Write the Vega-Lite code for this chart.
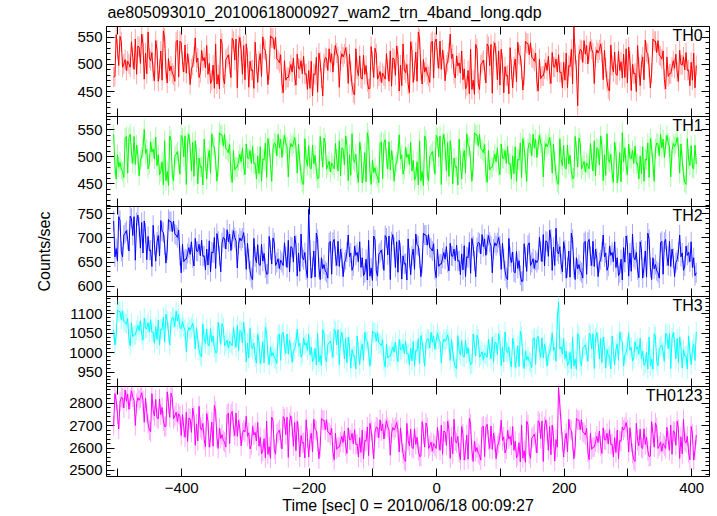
{
"$schema":"https://vega.github.io/schema/vega-lite/v6.json",
"background":"white",
"padding":{"left":36,"top":5,"right":5,"bottom":3},
"title":{"text":"ae805093010_20100618000927_wam2_trn_4band_long.qdp","anchor":"start","fontSize":16,"font":"Liberation Sans","fontWeight":"normal","color":"black","frame":"bounds","offset":4,"dx":71},
"data":{"values":[
{"t":-506,"a":476,"b":541,"c":734,"d":1057,"e":2697},
{"t":-504,"a":477,"b":483,"c":660,"d":1019,"e":2841},
{"t":-502,"a":554,"b":458,"c":677,"d":1046,"e":2809},
{"t":-500,"a":527,"b":503,"c":651,"d":1109,"e":2749},
{"t":-498,"a":497,"b":480,"c":743,"d":1105,"e":2683},
{"t":-496,"a":551,"b":489,"c":735,"d":1105,"e":2803},
{"t":-494,"a":541,"b":476,"c":671,"d":1084,"e":2825},
{"t":-492,"a":494,"b":472,"c":660,"d":1106,"e":2821},
{"t":-490,"a":500,"b":461,"c":705,"d":1079,"e":2777},
{"t":-488,"a":508,"b":534,"c":709,"d":1077,"e":2857},
{"t":-486,"a":488,"b":537,"c":714,"d":1072,"e":2807},
{"t":-484,"a":505,"b":469,"c":696,"d":1087,"e":2839},
{"t":-482,"a":500,"b":535,"c":672,"d":1034,"e":2771},
{"t":-480,"a":494,"b":541,"c":744,"d":1017,"e":2817},
{"t":-478,"a":541,"b":506,"c":739,"d":1076,"e":2853},
{"t":-476,"a":512,"b":487,"c":704,"d":1040,"e":2825},
{"t":-474,"a":490,"b":537,"c":743,"d":1045,"e":2811},
{"t":-472,"a":546,"b":485,"c":653,"d":1045,"e":2699},
{"t":-470,"a":481,"b":521,"c":731,"d":1057,"e":2797},
{"t":-468,"a":533,"b":502,"c":746,"d":1069,"e":2823},
{"t":-466,"a":531,"b":464,"c":721,"d":1055,"e":2811},
{"t":-464,"a":501,"b":493,"c":678,"d":1081,"e":2823},
{"t":-462,"a":555,"b":499,"c":731,"d":1048,"e":2845},
{"t":-460,"a":537,"b":515,"c":668,"d":1031,"e":2811},
{"t":-458,"a":472,"b":550,"c":734,"d":1088,"e":2713},
{"t":-456,"a":520,"b":505,"c":709,"d":1062,"e":2821},
{"t":-454,"a":482,"b":513,"c":654,"d":1061,"e":2757},
{"t":-452,"a":559,"b":477,"c":702,"d":1076,"e":2707},
{"t":-450,"a":511,"b":486,"c":673,"d":1052,"e":2679},
{"t":-448,"a":506,"b":527,"c":674,"d":1084,"e":2671},
{"t":-446,"a":521,"b":508,"c":640,"d":1051,"e":2841},
{"t":-444,"a":485,"b":514,"c":725,"d":1052,"e":2765},
{"t":-442,"a":469,"b":495,"c":685,"d":1023,"e":2741},
{"t":-440,"a":543,"b":536,"c":651,"d":1066,"e":2815},
{"t":-438,"a":526,"b":483,"c":690,"d":1033,"e":2733},
{"t":-436,"a":468,"b":503,"c":704,"d":1083,"e":2729},
{"t":-434,"a":490,"b":466,"c":662,"d":1019,"e":2817},
{"t":-432,"a":524,"b":472,"c":735,"d":1060,"e":2747},
{"t":-430,"a":470,"b":490,"c":713,"d":1058,"e":2779},
{"t":-428,"a":561,"b":447,"c":710,"d":1090,"e":2719},
{"t":-426,"a":548,"b":529,"c":685,"d":1026,"e":2693},
{"t":-424,"a":490,"b":455,"c":647,"d":1098,"e":2695},
{"t":-422,"a":465,"b":472,"c":674,"d":1082,"e":2849},
{"t":-420,"a":510,"b":446,"c":737,"d":1052,"e":2795},
{"t":-418,"a":487,"b":538,"c":733,"d":1019,"e":2735},
{"t":-416,"a":496,"b":530,"c":733,"d":1079,"e":2843},
{"t":-414,"a":483,"b":466,"c":712,"d":1090,"e":2823},
{"t":-412,"a":479,"b":455,"c":734,"d":1088,"e":2729},
{"t":-410,"a":468,"b":500,"c":707,"d":1066,"e":2741},
{"t":-408,"a":541,"b":504,"c":705,"d":1106,"e":2757},
{"t":-406,"a":544,"b":509,"c":700,"d":1081,"e":2717},
{"t":-404,"a":476,"b":491,"c":715,"d":1097,"e":2751},
{"t":-402,"a":542,"b":467,"c":662,"d":1063,"e":2741},
{"t":-400,"a":539,"b":539,"c":627,"d":1061,"e":2654},
{"t":-398,"a":504,"b":534,"c":686,"d":1079,"e":2748},
{"t":-396,"a":485,"b":499,"c":650,"d":1065,"e":2690},
{"t":-394,"a":535,"b":538,"c":655,"d":1058,"e":2646},
{"t":-392,"a":483,"b":448,"c":655,"d":1002,"e":2758},
{"t":-390,"a":519,"b":526,"c":667,"d":1051,"e":2628},
{"t":-388,"a":500,"b":541,"c":679,"d":1064,"e":2732},
{"t":-386,"a":462,"b":516,"c":665,"d":1058,"e":2728},
{"t":-384,"a":491,"b":473,"c":691,"d":1064,"e":2668},
{"t":-382,"a":497,"b":526,"c":658,"d":1075,"e":2776},
{"t":-380,"a":513,"b":463,"c":641,"d":1058,"e":2740},
{"t":-378,"a":548,"b":529,"c":698,"d":1009,"e":2610},
{"t":-376,"a":503,"b":504,"c":672,"d":1063,"e":2706},
{"t":-374,"a":511,"b":449,"c":671,"d":1031,"e":2630},
{"t":-372,"a":475,"b":497,"c":686,"d":1006,"e":2784},
{"t":-370,"a":484,"b":480,"c":662,"d":992,"e":2688},
{"t":-368,"a":525,"b":481,"c":694,"d":988,"e":2678},
{"t":-366,"a":506,"b":447,"c":661,"d":1073,"e":2708},
{"t":-364,"a":512,"b":532,"c":662,"d":1035,"e":2636},
{"t":-362,"a":493,"b":492,"c":633,"d":1023,"e":2604},
{"t":-360,"a":534,"b":458,"c":676,"d":1060,"e":2752},
{"t":-358,"a":481,"b":497,"c":643,"d":1019,"e":2718},
{"t":-356,"a":501,"b":511,"c":693,"d":1017,"e":2602},
{"t":-354,"a":464,"b":469,"c":629,"d":1061,"e":2646},
{"t":-352,"a":470,"b":542,"c":670,"d":1026,"e":2714},
{"t":-350,"a":498,"b":520,"c":668,"d":1042,"e":2606},
{"t":-348,"a":455,"b":517,"c":700,"d":1012,"e":2788},
{"t":-346,"a":537,"b":492,"c":636,"d":999,"e":2762},
{"t":-344,"a":463,"b":454,"c":708,"d":1000,"e":2646},
{"t":-342,"a":480,"b":481,"c":692,"d":1077,"e":2596},
{"t":-340,"a":454,"b":544,"c":662,"d":1050,"e":2686},
{"t":-338,"a":546,"b":540,"c":629,"d":1020,"e":2640},
{"t":-336,"a":538,"b":540,"c":689,"d":1074,"e":2658},
{"t":-334,"a":474,"b":519,"c":700,"d":1064,"e":2632},
{"t":-332,"a":463,"b":541,"c":698,"d":1017,"e":2624},
{"t":-330,"a":508,"b":514,"c":676,"d":1023,"e":2602},
{"t":-328,"a":512,"b":512,"c":716,"d":1031,"e":2748},
{"t":-326,"a":517,"b":507,"c":691,"d":1011,"e":2754},
{"t":-324,"a":499,"b":522,"c":707,"d":1028,"e":2618},
{"t":-322,"a":475,"b":469,"c":673,"d":1023,"e":2750},
{"t":-320,"a":547,"b":452,"c":696,"d":1017,"e":2762},
{"t":-318,"a":542,"b":511,"c":714,"d":1064,"e":2692},
{"t":-316,"a":507,"b":475,"c":700,"d":1035,"e":2654},
{"t":-314,"a":546,"b":480,"c":693,"d":1013,"e":2754},
{"t":-312,"a":456,"b":480,"c":637,"d":1069,"e":2650},
{"t":-310,"a":534,"b":492,"c":686,"d":1004,"e":2722},
{"t":-308,"a":549,"b":504,"c":699,"d":1056,"e":2684},
{"t":-306,"a":524,"b":490,"c":693,"d":1054,"e":2608},
{"t":-304,"a":481,"b":516,"c":699,"d":1024,"e":2666},
{"t":-302,"a":534,"b":483,"c":710,"d":1078,"e":2678},
{"t":-300,"a":471,"b":466,"c":683,"d":1040,"e":2670},
{"t":-298,"a":537,"b":523,"c":634,"d":975,"e":2740},
{"t":-296,"a":512,"b":497,"c":688,"d":1023,"e":2650},
{"t":-294,"a":457,"b":496,"c":656,"d":985,"e":2666},
{"t":-292,"a":505,"b":511,"c":631,"d":1062,"e":2594},
{"t":-290,"a":488,"b":487,"c":617,"d":1014,"e":2612},
{"t":-288,"a":489,"b":519,"c":613,"d":1009,"e":2694},
{"t":-286,"a":455,"b":486,"c":698,"d":1024,"e":2656},
{"t":-284,"a":540,"b":487,"c":660,"d":988,"e":2668},
{"t":-282,"a":500,"b":458,"c":648,"d":972,"e":2630},
{"t":-280,"a":466,"b":501,"c":685,"d":1046,"e":2712},
{"t":-278,"a":505,"b":468,"c":644,"d":1029,"e":2606},
{"t":-276,"a":519,"b":518,"c":642,"d":971,"e":2646},
{"t":-274,"a":477,"b":454,"c":686,"d":993,"e":2572},
{"t":-272,"a":550,"b":495,"c":651,"d":1027,"e":2584},
{"t":-270,"a":528,"b":493,"c":667,"d":973,"e":2640},
{"t":-268,"a":525,"b":525,"c":637,"d":1064,"e":2554},
{"t":-266,"a":500,"b":461,"c":624,"d":1051,"e":2718},
{"t":-264,"a":462,"b":533,"c":625,"d":993,"e":2570},
{"t":-262,"a":489,"b":517,"c":702,"d":968,"e":2604},
{"t":-260,"a":552,"b":487,"c":675,"d":1013,"e":2552},
{"t":-258,"a":548,"b":454,"c":645,"d":990,"e":2736},
{"t":-256,"a":548,"b":514,"c":699,"d":999,"e":2720},
{"t":-254,"a":527,"b":525,"c":689,"d":986,"e":2592},
{"t":-252,"a":549,"b":523,"c":642,"d":982,"e":2570},
{"t":-250,"a":509,"b":501,"c":648,"d":971,"e":2660},
{"t":-248,"a":507,"b":541,"c":656,"d":1044,"e":2668},
{"t":-246,"a":502,"b":516,"c":636,"d":1047,"e":2678},
{"t":-244,"a":517,"b":532,"c":653,"d":979,"e":2642},
{"t":-242,"a":464,"b":498,"c":648,"d":1045,"e":2594},
{"t":-240,"a":447,"b":521,"c":642,"d":1051,"e":2738},
{"t":-238,"a":506,"b":539,"c":689,"d":1016,"e":2728},
{"t":-236,"a":470,"b":525,"c":660,"d":997,"e":2658},
{"t":-234,"a":475,"b":518,"c":638,"d":1047,"e":2736},
{"t":-232,"a":475,"b":462,"c":694,"d":995,"e":2556},
{"t":-230,"a":487,"b":511,"c":629,"d":1031,"e":2712},
{"t":-228,"a":499,"b":524,"c":681,"d":1012,"e":2742},
{"t":-226,"a":485,"b":518,"c":679,"d":974,"e":2692},
{"t":-224,"a":511,"b":524,"c":649,"d":1003,"e":2606},
{"t":-222,"a":478,"b":535,"c":703,"d":1009,"e":2712},
{"t":-220,"a":461,"b":518,"c":685,"d":1025,"e":2586},
{"t":-218,"a":518,"b":469,"c":620,"d":1060,"e":2718},
{"t":-216,"a":492,"b":523,"c":668,"d":1015,"e":2668},
{"t":-214,"a":491,"b":491,"c":630,"d":1023,"e":2558},
{"t":-212,"a":506,"b":466,"c":707,"d":987,"e":2654},
{"t":-210,"a":482,"b":452,"c":659,"d":996,"e":2620},
{"t":-208,"a":514,"b":448,"c":654,"d":1037,"e":2622},
{"t":-206,"a":481,"b":533,"c":669,"d":1018,"e":2554},
{"t":-204,"a":482,"b":495,"c":633,"d":1024,"e":2724},
{"t":-202,"a":453,"b":483,"c":617,"d":1005,"e":2644},
{"t":-200,"a":488,"b":520,"c":758,"d":1046,"e":2558},
{"t":-198,"a":455,"b":479,"c":674,"d":993,"e":2636},
{"t":-196,"a":505,"b":477,"c":616,"d":1013,"e":2664},
{"t":-194,"a":441,"b":521,"c":638,"d":976,"e":2580},
{"t":-192,"a":482,"b":486,"c":672,"d":982,"e":2726},
{"t":-190,"a":480,"b":502,"c":618,"d":1010,"e":2682},
{"t":-188,"a":512,"b":472,"c":709,"d":967,"e":2676},
{"t":-186,"a":448,"b":459,"c":696,"d":1049,"e":2626},
{"t":-184,"a":520,"b":460,"c":638,"d":975,"e":2550},
{"t":-182,"a":504,"b":537,"c":613,"d":992,"e":2604},
{"t":-180,"a":474,"b":510,"c":658,"d":966,"e":2730},
{"t":-178,"a":441,"b":480,"c":635,"d":1058,"e":2722},
{"t":-176,"a":501,"b":534,"c":644,"d":1050,"e":2722},
{"t":-174,"a":512,"b":524,"c":631,"d":986,"e":2680},
{"t":-172,"a":510,"b":477,"c":627,"d":975,"e":2724},
{"t":-170,"a":488,"b":483,"c":616,"d":1020,"e":2670},
{"t":-168,"a":528,"b":491,"c":689,"d":1024,"e":2666},
{"t":-166,"a":503,"b":471,"c":692,"d":1029,"e":2656},
{"t":-164,"a":519,"b":488,"c":624,"d":1011,"e":2686},
{"t":-162,"a":485,"b":483,"c":690,"d":987,"e":2580},
{"t":-160,"a":516,"b":477,"c":696,"d":1059,"e":2546},
{"t":-158,"a":534,"b":524,"c":661,"d":1054,"e":2664},
{"t":-156,"a":520,"b":495,"c":642,"d":1019,"e":2592},
{"t":-154,"a":513,"b":473,"c":692,"d":1058,"e":2602},
{"t":-152,"a":457,"b":529,"c":640,"d":968,"e":2602},
{"t":-150,"a":506,"b":464,"c":676,"d":1036,"e":2626},
{"t":-148,"a":519,"b":516,"c":657,"d":1051,"e":2650},
{"t":-146,"a":513,"b":514,"c":619,"d":1026,"e":2622},
{"t":-144,"a":519,"b":484,"c":648,"d":983,"e":2674},
{"t":-142,"a":530,"b":538,"c":654,"d":1036,"e":2608},
{"t":-140,"a":513,"b":520,"c":670,"d":973,"e":2574},
{"t":-138,"a":464,"b":455,"c":705,"d":1039,"e":2688},
{"t":-136,"a":518,"b":503,"c":660,"d":1014,"e":2636},
{"t":-134,"a":486,"b":465,"c":668,"d":959,"e":2634},
{"t":-132,"a":461,"b":542,"c":632,"d":1007,"e":2664},
{"t":-130,"a":447,"b":494,"c":641,"d":990,"e":2616},
{"t":-128,"a":443,"b":489,"c":682,"d":991,"e":2680},
{"t":-126,"a":528,"b":504,"c":663,"d":957,"e":2614},
{"t":-124,"a":490,"b":468,"c":669,"d":1042,"e":2616},
{"t":-122,"a":478,"b":452,"c":650,"d":1002,"e":2558},
{"t":-120,"a":515,"b":526,"c":691,"d":968,"e":2644},
{"t":-118,"a":474,"b":509,"c":638,"d":1007,"e":2578},
{"t":-116,"a":472,"b":451,"c":658,"d":1021,"e":2678},
{"t":-114,"a":516,"b":473,"c":621,"d":979,"e":2550},
{"t":-112,"a":481,"b":507,"c":627,"d":1052,"e":2632},
{"t":-110,"a":497,"b":453,"c":655,"d":1030,"e":2628},
{"t":-108,"a":467,"b":544,"c":612,"d":1027,"e":2692},
{"t":-106,"a":454,"b":531,"c":694,"d":1002,"e":2564},
{"t":-104,"a":455,"b":473,"c":620,"d":964,"e":2708},
{"t":-102,"a":532,"b":448,"c":637,"d":991,"e":2676},
{"t":-100,"a":505,"b":493,"c":611,"d":1054,"e":2616},
{"t":-98,"a":475,"b":470,"c":703,"d":1050,"e":2550},
{"t":-96,"a":529,"b":479,"c":695,"d":1050,"e":2670},
{"t":-94,"a":519,"b":466,"c":631,"d":1029,"e":2692},
{"t":-92,"a":472,"b":462,"c":620,"d":1051,"e":2688},
{"t":-90,"a":478,"b":451,"c":665,"d":1024,"e":2644},
{"t":-88,"a":486,"b":524,"c":669,"d":1022,"e":2724},
{"t":-86,"a":466,"b":527,"c":674,"d":1017,"e":2674},
{"t":-84,"a":483,"b":459,"c":656,"d":1032,"e":2706},
{"t":-82,"a":478,"b":525,"c":632,"d":979,"e":2638},
{"t":-80,"a":472,"b":531,"c":704,"d":962,"e":2684},
{"t":-78,"a":519,"b":496,"c":699,"d":1021,"e":2720},
{"t":-76,"a":490,"b":477,"c":664,"d":985,"e":2692},
{"t":-74,"a":468,"b":527,"c":703,"d":990,"e":2678},
{"t":-72,"a":524,"b":475,"c":613,"d":990,"e":2566},
{"t":-70,"a":459,"b":511,"c":691,"d":1002,"e":2664},
{"t":-68,"a":511,"b":492,"c":706,"d":1014,"e":2690},
{"t":-66,"a":509,"b":454,"c":681,"d":1000,"e":2678},
{"t":-64,"a":479,"b":483,"c":638,"d":1026,"e":2690},
{"t":-62,"a":533,"b":489,"c":691,"d":993,"e":2712},
{"t":-60,"a":515,"b":505,"c":628,"d":976,"e":2678},
{"t":-58,"a":450,"b":540,"c":694,"d":1033,"e":2580},
{"t":-56,"a":498,"b":495,"c":669,"d":1007,"e":2688},
{"t":-54,"a":460,"b":503,"c":614,"d":1006,"e":2624},
{"t":-52,"a":537,"b":467,"c":662,"d":1021,"e":2574},
{"t":-50,"a":489,"b":476,"c":645,"d":997,"e":2546},
{"t":-48,"a":484,"b":517,"c":646,"d":1029,"e":2538},
{"t":-46,"a":499,"b":498,"c":612,"d":996,"e":2708},
{"t":-44,"a":463,"b":504,"c":697,"d":997,"e":2632},
{"t":-42,"a":447,"b":485,"c":657,"d":968,"e":2608},
{"t":-40,"a":541,"b":526,"c":623,"d":1011,"e":2682},
{"t":-38,"a":524,"b":473,"c":662,"d":978,"e":2600},
{"t":-36,"a":466,"b":493,"c":676,"d":1028,"e":2596},
{"t":-34,"a":488,"b":456,"c":634,"d":964,"e":2684},
{"t":-32,"a":522,"b":462,"c":707,"d":1005,"e":2614},
{"t":-30,"a":468,"b":490,"c":685,"d":1003,"e":2646},
{"t":-28,"a":559,"b":447,"c":682,"d":1035,"e":2586},
{"t":-26,"a":546,"b":529,"c":657,"d":971,"e":2560},
{"t":-24,"a":488,"b":455,"c":619,"d":1043,"e":2562},
{"t":-22,"a":463,"b":472,"c":646,"d":1027,"e":2716},
{"t":-20,"a":508,"b":446,"c":709,"d":997,"e":2662},
{"t":-18,"a":485,"b":538,"c":705,"d":964,"e":2602},
{"t":-16,"a":494,"b":530,"c":705,"d":1024,"e":2710},
{"t":-14,"a":481,"b":466,"c":684,"d":1035,"e":2690},
{"t":-12,"a":477,"b":455,"c":706,"d":1033,"e":2596},
{"t":-10,"a":466,"b":500,"c":679,"d":1011,"e":2608},
{"t":-8,"a":539,"b":504,"c":677,"d":1051,"e":2624},
{"t":-6,"a":542,"b":509,"c":672,"d":1026,"e":2584},
{"t":-4,"a":474,"b":491,"c":687,"d":1042,"e":2618},
{"t":-2,"a":540,"b":467,"c":634,"d":1008,"e":2608},
{"t":0,"a":546,"b":539,"c":617,"d":1031,"e":2596},
{"t":2,"a":511,"b":534,"c":676,"d":1049,"e":2690},
{"t":4,"a":492,"b":499,"c":640,"d":1035,"e":2632},
{"t":6,"a":542,"b":538,"c":645,"d":1028,"e":2588},
{"t":8,"a":490,"b":448,"c":645,"d":972,"e":2700},
{"t":10,"a":526,"b":526,"c":657,"d":1021,"e":2570},
{"t":12,"a":507,"b":541,"c":669,"d":1034,"e":2674},
{"t":14,"a":469,"b":516,"c":655,"d":1028,"e":2670},
{"t":16,"a":498,"b":473,"c":681,"d":1034,"e":2610},
{"t":18,"a":504,"b":526,"c":648,"d":1045,"e":2718},
{"t":20,"a":520,"b":463,"c":631,"d":1028,"e":2682},
{"t":22,"a":555,"b":529,"c":688,"d":979,"e":2552},
{"t":24,"a":510,"b":504,"c":662,"d":1033,"e":2648},
{"t":26,"a":518,"b":449,"c":661,"d":1001,"e":2572},
{"t":28,"a":482,"b":497,"c":676,"d":976,"e":2726},
{"t":30,"a":474,"b":480,"c":652,"d":962,"e":2630},
{"t":32,"a":515,"b":481,"c":684,"d":958,"e":2620},
{"t":34,"a":496,"b":447,"c":651,"d":1043,"e":2650},
{"t":36,"a":502,"b":532,"c":652,"d":1005,"e":2578},
{"t":38,"a":483,"b":492,"c":623,"d":993,"e":2546},
{"t":40,"a":524,"b":458,"c":666,"d":1030,"e":2694},
{"t":42,"a":471,"b":497,"c":633,"d":989,"e":2660},
{"t":44,"a":491,"b":511,"c":683,"d":987,"e":2544},
{"t":46,"a":454,"b":469,"c":619,"d":1031,"e":2588},
{"t":48,"a":460,"b":542,"c":660,"d":996,"e":2656},
{"t":50,"a":488,"b":520,"c":658,"d":1012,"e":2548},
{"t":52,"a":445,"b":517,"c":690,"d":982,"e":2730},
{"t":54,"a":527,"b":492,"c":626,"d":969,"e":2704},
{"t":56,"a":453,"b":454,"c":698,"d":970,"e":2588},
{"t":58,"a":470,"b":481,"c":682,"d":1047,"e":2538},
{"t":60,"a":444,"b":544,"c":652,"d":1020,"e":2628},
{"t":62,"a":536,"b":540,"c":619,"d":990,"e":2582},
{"t":64,"a":528,"b":540,"c":679,"d":1044,"e":2600},
{"t":66,"a":464,"b":519,"c":690,"d":1034,"e":2574},
{"t":68,"a":453,"b":541,"c":688,"d":987,"e":2566},
{"t":70,"a":498,"b":514,"c":666,"d":993,"e":2544},
{"t":72,"a":502,"b":512,"c":706,"d":1001,"e":2690},
{"t":74,"a":507,"b":507,"c":681,"d":981,"e":2696},
{"t":76,"a":489,"b":522,"c":697,"d":998,"e":2560},
{"t":78,"a":465,"b":469,"c":663,"d":993,"e":2692},
{"t":80,"a":537,"b":452,"c":686,"d":987,"e":2704},
{"t":82,"a":532,"b":511,"c":704,"d":1034,"e":2634},
{"t":84,"a":497,"b":475,"c":690,"d":1005,"e":2596},
{"t":86,"a":536,"b":480,"c":683,"d":983,"e":2696},
{"t":88,"a":446,"b":480,"c":627,"d":1039,"e":2592},
{"t":90,"a":524,"b":492,"c":676,"d":974,"e":2664},
{"t":92,"a":539,"b":504,"c":689,"d":1026,"e":2626},
{"t":94,"a":514,"b":490,"c":683,"d":1024,"e":2550},
{"t":96,"a":471,"b":516,"c":689,"d":994,"e":2608},
{"t":98,"a":524,"b":483,"c":700,"d":1048,"e":2620},
{"t":100,"a":461,"b":466,"c":683,"d":1030,"e":2652},
{"t":102,"a":527,"b":523,"c":634,"d":965,"e":2722},
{"t":104,"a":502,"b":497,"c":688,"d":1013,"e":2632},
{"t":106,"a":447,"b":496,"c":656,"d":975,"e":2648},
{"t":108,"a":495,"b":511,"c":631,"d":1052,"e":2576},
{"t":110,"a":478,"b":487,"c":617,"d":1004,"e":2594},
{"t":112,"a":479,"b":519,"c":613,"d":999,"e":2676},
{"t":114,"a":445,"b":486,"c":698,"d":1014,"e":2638},
{"t":116,"a":530,"b":487,"c":660,"d":978,"e":2650},
{"t":118,"a":490,"b":458,"c":648,"d":962,"e":2612},
{"t":120,"a":456,"b":501,"c":670,"d":1036,"e":2694},
{"t":122,"a":495,"b":468,"c":629,"d":1019,"e":2588},
{"t":124,"a":509,"b":518,"c":627,"d":961,"e":2628},
{"t":126,"a":467,"b":454,"c":671,"d":983,"e":2554},
{"t":128,"a":540,"b":495,"c":636,"d":1017,"e":2566},
{"t":130,"a":518,"b":493,"c":652,"d":963,"e":2622},
{"t":132,"a":515,"b":525,"c":622,"d":1054,"e":2536},
{"t":134,"a":490,"b":461,"c":609,"d":1041,"e":2700},
{"t":136,"a":452,"b":533,"c":610,"d":983,"e":2552},
{"t":138,"a":479,"b":517,"c":687,"d":958,"e":2586},
{"t":140,"a":542,"b":487,"c":660,"d":1003,"e":2534},
{"t":142,"a":538,"b":454,"c":630,"d":980,"e":2718},
{"t":144,"a":538,"b":514,"c":684,"d":989,"e":2702},
{"t":146,"a":517,"b":525,"c":689,"d":976,"e":2574},
{"t":148,"a":539,"b":523,"c":642,"d":972,"e":2552},
{"t":150,"a":512,"b":501,"c":648,"d":961,"e":2642},
{"t":152,"a":510,"b":541,"c":656,"d":1034,"e":2650},
{"t":154,"a":505,"b":516,"c":636,"d":1037,"e":2660},
{"t":156,"a":520,"b":532,"c":653,"d":969,"e":2624},
{"t":158,"a":467,"b":498,"c":648,"d":1035,"e":2576},
{"t":160,"a":450,"b":521,"c":654,"d":1041,"e":2720},
{"t":162,"a":509,"b":539,"c":701,"d":1006,"e":2710},
{"t":164,"a":473,"b":525,"c":672,"d":987,"e":2640},
{"t":166,"a":478,"b":518,"c":650,"d":1037,"e":2718},
{"t":168,"a":478,"b":462,"c":706,"d":985,"e":2538},
{"t":170,"a":490,"b":511,"c":641,"d":1021,"e":2694},
{"t":172,"a":502,"b":524,"c":693,"d":1002,"e":2724},
{"t":174,"a":488,"b":518,"c":691,"d":964,"e":2674},
{"t":176,"a":514,"b":524,"c":661,"d":993,"e":2588},
{"t":178,"a":481,"b":535,"c":715,"d":999,"e":2694},
{"t":180,"a":464,"b":518,"c":697,"d":1015,"e":2568},
{"t":182,"a":521,"b":469,"c":632,"d":1050,"e":2700},
{"t":184,"a":495,"b":523,"c":680,"d":1005,"e":2650},
{"t":186,"a":494,"b":491,"c":642,"d":1013,"e":2540},
{"t":188,"a":509,"b":466,"c":719,"d":977,"e":2636},
{"t":190,"a":485,"b":452,"c":671,"d":1085,"e":2602},
{"t":192,"a":517,"b":448,"c":666,"d":1130,"e":2868},
{"t":194,"a":484,"b":533,"c":681,"d":1008,"e":2790},
{"t":196,"a":485,"b":495,"c":645,"d":1014,"e":2706},
{"t":198,"a":456,"b":483,"c":629,"d":995,"e":2626},
{"t":200,"a":503,"b":520,"c":691,"d":1036,"e":2558},
{"t":202,"a":470,"b":479,"c":674,"d":983,"e":2636},
{"t":204,"a":520,"b":477,"c":616,"d":1003,"e":2664},
{"t":206,"a":456,"b":521,"c":638,"d":966,"e":2580},
{"t":208,"a":497,"b":486,"c":672,"d":972,"e":2726},
{"t":210,"a":495,"b":502,"c":618,"d":1000,"e":2682},
{"t":212,"a":527,"b":472,"c":709,"d":957,"e":2676},
{"t":214,"a":463,"b":459,"c":696,"d":1039,"e":2626},
{"t":216,"a":568,"b":460,"c":638,"d":965,"e":2550},
{"t":218,"a":519,"b":537,"c":613,"d":982,"e":2604},
{"t":220,"a":489,"b":510,"c":658,"d":956,"e":2730},
{"t":222,"a":423,"b":480,"c":635,"d":1048,"e":2722},
{"t":224,"a":516,"b":534,"c":644,"d":1040,"e":2722},
{"t":226,"a":527,"b":524,"c":631,"d":976,"e":2680},
{"t":228,"a":525,"b":477,"c":627,"d":965,"e":2724},
{"t":230,"a":503,"b":483,"c":616,"d":1010,"e":2670},
{"t":232,"a":543,"b":491,"c":689,"d":1014,"e":2666},
{"t":234,"a":518,"b":471,"c":692,"d":1019,"e":2656},
{"t":236,"a":534,"b":488,"c":624,"d":1001,"e":2686},
{"t":238,"a":500,"b":483,"c":690,"d":977,"e":2580},
{"t":240,"a":523,"b":477,"c":696,"d":1049,"e":2546},
{"t":242,"a":541,"b":524,"c":661,"d":1044,"e":2664},
{"t":244,"a":527,"b":495,"c":642,"d":1009,"e":2592},
{"t":246,"a":520,"b":473,"c":692,"d":1048,"e":2602},
{"t":248,"a":464,"b":529,"c":640,"d":958,"e":2602},
{"t":250,"a":513,"b":464,"c":676,"d":1036,"e":2626},
{"t":252,"a":526,"b":516,"c":657,"d":1051,"e":2650},
{"t":254,"a":520,"b":514,"c":619,"d":1026,"e":2622},
{"t":256,"a":526,"b":484,"c":648,"d":983,"e":2674},
{"t":258,"a":537,"b":538,"c":654,"d":1036,"e":2608},
{"t":260,"a":520,"b":520,"c":670,"d":973,"e":2574},
{"t":262,"a":471,"b":455,"c":705,"d":1039,"e":2688},
{"t":264,"a":525,"b":503,"c":660,"d":1014,"e":2636},
{"t":266,"a":493,"b":465,"c":668,"d":959,"e":2634},
{"t":268,"a":468,"b":542,"c":632,"d":1007,"e":2664},
{"t":270,"a":454,"b":494,"c":641,"d":990,"e":2616},
{"t":272,"a":450,"b":489,"c":682,"d":991,"e":2680},
{"t":274,"a":535,"b":504,"c":663,"d":957,"e":2614},
{"t":276,"a":497,"b":468,"c":669,"d":1042,"e":2616},
{"t":278,"a":485,"b":452,"c":650,"d":1002,"e":2558},
{"t":280,"a":522,"b":526,"c":691,"d":968,"e":2644},
{"t":282,"a":481,"b":509,"c":638,"d":1007,"e":2578},
{"t":284,"a":479,"b":451,"c":658,"d":1021,"e":2678},
{"t":286,"a":523,"b":473,"c":621,"d":979,"e":2550},
{"t":288,"a":488,"b":507,"c":627,"d":1052,"e":2632},
{"t":290,"a":504,"b":453,"c":655,"d":1030,"e":2628},
{"t":292,"a":474,"b":544,"c":612,"d":1027,"e":2692},
{"t":294,"a":518,"b":490,"c":679,"d":964,"e":2678},
{"t":296,"a":475,"b":516,"c":649,"d":993,"e":2690},
{"t":298,"a":528,"b":483,"c":703,"d":999,"e":2712},
{"t":300,"a":465,"b":466,"c":685,"d":1015,"e":2678},
{"t":302,"a":531,"b":523,"c":620,"d":1050,"e":2580},
{"t":304,"a":506,"b":497,"c":668,"d":1005,"e":2688},
{"t":306,"a":451,"b":496,"c":630,"d":1013,"e":2624},
{"t":308,"a":499,"b":511,"c":707,"d":977,"e":2574},
{"t":310,"a":482,"b":487,"c":659,"d":986,"e":2546},
{"t":312,"a":483,"b":519,"c":654,"d":1027,"e":2538},
{"t":314,"a":449,"b":486,"c":669,"d":1008,"e":2708},
{"t":316,"a":534,"b":487,"c":633,"d":1014,"e":2632},
{"t":318,"a":494,"b":458,"c":617,"d":995,"e":2608},
{"t":320,"a":460,"b":501,"c":691,"d":1036,"e":2682},
{"t":322,"a":499,"b":468,"c":674,"d":983,"e":2600},
{"t":324,"a":513,"b":518,"c":616,"d":1003,"e":2596},
{"t":326,"a":471,"b":454,"c":638,"d":966,"e":2684},
{"t":328,"a":544,"b":495,"c":672,"d":972,"e":2614},
{"t":330,"a":522,"b":493,"c":618,"d":1000,"e":2646},
{"t":332,"a":519,"b":525,"c":709,"d":957,"e":2586},
{"t":334,"a":494,"b":461,"c":696,"d":1039,"e":2560},
{"t":336,"a":456,"b":533,"c":638,"d":965,"e":2562},
{"t":338,"a":483,"b":517,"c":613,"d":982,"e":2716},
{"t":340,"a":546,"b":487,"c":658,"d":956,"e":2662},
{"t":342,"a":542,"b":454,"c":635,"d":1048,"e":2602},
{"t":344,"a":542,"b":514,"c":644,"d":1040,"e":2710},
{"t":346,"a":521,"b":525,"c":631,"d":976,"e":2690},
{"t":348,"a":543,"b":523,"c":627,"d":965,"e":2596},
{"t":350,"a":516,"b":501,"c":616,"d":1010,"e":2608},
{"t":352,"a":514,"b":541,"c":689,"d":1014,"e":2624},
{"t":354,"a":509,"b":516,"c":692,"d":1019,"e":2584},
{"t":356,"a":524,"b":532,"c":624,"d":1001,"e":2618},
{"t":358,"a":471,"b":498,"c":690,"d":977,"e":2608},
{"t":360,"a":454,"b":521,"c":696,"d":1049,"e":2596},
{"t":362,"a":513,"b":539,"c":661,"d":1044,"e":2690},
{"t":364,"a":477,"b":525,"c":642,"d":1009,"e":2632},
{"t":366,"a":482,"b":518,"c":692,"d":1048,"e":2588},
{"t":368,"a":482,"b":462,"c":640,"d":958,"e":2700},
{"t":370,"a":494,"b":511,"c":676,"d":1036,"e":2570},
{"t":372,"a":506,"b":524,"c":657,"d":1051,"e":2674},
{"t":374,"a":492,"b":518,"c":619,"d":1026,"e":2670},
{"t":376,"a":518,"b":524,"c":648,"d":983,"e":2610},
{"t":378,"a":485,"b":535,"c":654,"d":1036,"e":2718},
{"t":380,"a":468,"b":518,"c":670,"d":973,"e":2682},
{"t":382,"a":525,"b":469,"c":705,"d":1039,"e":2552},
{"t":384,"a":499,"b":523,"c":660,"d":1014,"e":2648},
{"t":386,"a":498,"b":491,"c":668,"d":959,"e":2572},
{"t":388,"a":513,"b":466,"c":632,"d":1007,"e":2726},
{"t":390,"a":489,"b":452,"c":641,"d":990,"e":2630},
{"t":392,"a":521,"b":448,"c":682,"d":991,"e":2620},
{"t":394,"a":488,"b":533,"c":663,"d":957,"e":2650},
{"t":396,"a":489,"b":495,"c":669,"d":1042,"e":2578},
{"t":398,"a":460,"b":483,"c":650,"d":1002,"e":2546},
{"t":400,"a":503,"b":520,"c":691,"d":968,"e":2694},
{"t":402,"a":470,"b":479,"c":638,"d":1007,"e":2660},
{"t":404,"a":520,"b":477,"c":658,"d":1021,"e":2544},
{"t":406,"a":456,"b":521,"c":621,"d":979,"e":2588},
{"t":408,"a":497,"b":486,"c":627,"d":1052,"e":2656}
]},
"spacing":0,
"bounds":"flush",
"vconcat":[
{"width":603,"height":90,
 "layer":[
  {"mark":{"type":"tick","orient":"vertical","size":20,"thickness":1,"color":"#ff0000","opacity":0.35,"clip":true},
   "encoding":{
    "x":{"field":"t","type":"quantitative","scale":{"domain":[-518,428],"nice":false,"zero":false},"axis":{"title":null,"labels":false,"values":[-500,-400,-300,-200,-100,0,100,200,300,400]}},
    "y":{"field":"a","type":"quantitative","scale":{"domain":[404,570],"nice":false,"zero":false},"axis":{"title":null,"format":"d","values":[410,420,430,440,450,460,470,480,490,500,510,520,530,540,550,560,570],"labelExpr":"datum.value % 50 == 0 ? datum.label : ''","tickSize":{"condition":{"test":"datum.value % 50 == 0","value":-8},"value":-4}}}}},
  {"mark":{"type":"line","color":"#ff0000","strokeWidth":1,"clip":true},
   "encoding":{"x":{"field":"t","type":"quantitative","axis":null},"y":{"field":"a","type":"quantitative","axis":null}}},
  {"data":{"values":[{"label":"TH0"}]},
   "mark":{"type":"text","align":"right","baseline":"middle","fontSize":16,"font":"Liberation Sans","color":"black"},
   "encoding":{
    "x":{"datum":418,"type":"quantitative","axis":{"orient":"top","title":null,"labels":false,"values":[-500,-400,-300,-200,-100,0,100,200,300,400]}},
    "y":{"datum":552,"type":"quantitative","axis":{"orient":"right","title":null,"labels":false,"values":[410,420,430,440,450,460,470,480,490,500,510,520,530,540,550,560,570],"tickSize":{"condition":{"test":"datum.value % 50 == 0","value":-8},"value":-4}}},
    "text":{"field":"label"}}}
 ],
 "resolve":{"axis":{"x":"independent","y":"independent"}}},
{"width":603,"height":90,
 "layer":[
  {"mark":{"type":"tick","orient":"vertical","size":20,"thickness":1,"color":"#00ff00","opacity":0.35,"clip":true},
   "encoding":{
    "x":{"field":"t","type":"quantitative","scale":{"domain":[-518,428],"nice":false,"zero":false},"axis":{"title":null,"labels":false,"values":[-500,-400,-300,-200,-100,0,100,200,300,400]}},
    "y":{"field":"b","type":"quantitative","scale":{"domain":[408,575],"nice":false,"zero":false},"axis":{"title":null,"format":"d","values":[410,420,430,440,450,460,470,480,490,500,510,520,530,540,550,560,570],"labelExpr":"datum.value % 50 == 0 ? datum.label : ''","tickSize":{"condition":{"test":"datum.value % 50 == 0","value":-8},"value":-4}}}}},
  {"mark":{"type":"line","color":"#00ff00","strokeWidth":1,"clip":true},
   "encoding":{"x":{"field":"t","type":"quantitative","axis":null},"y":{"field":"b","type":"quantitative","axis":null}}},
  {"data":{"values":[{"label":"TH1"}]},
   "mark":{"type":"text","align":"right","baseline":"middle","fontSize":16,"font":"Liberation Sans","color":"black"},
   "encoding":{
    "x":{"datum":418,"type":"quantitative","axis":{"orient":"top","title":null,"labels":false,"values":[-500,-400,-300,-200,-100,0,100,200,300,400]}},
    "y":{"datum":556,"type":"quantitative","axis":{"orient":"right","title":null,"labels":false,"values":[410,420,430,440,450,460,470,480,490,500,510,520,530,540,550,560,570],"tickSize":{"condition":{"test":"datum.value % 50 == 0","value":-8},"value":-4}}},
    "text":{"field":"label"}}}
 ],
 "resolve":{"axis":{"x":"independent","y":"independent"}}},
{"width":603,"height":90,
 "layer":[
  {"mark":{"type":"tick","orient":"vertical","size":20,"thickness":1,"color":"#0000ff","opacity":0.35,"clip":true},
   "encoding":{
    "x":{"field":"t","type":"quantitative","scale":{"domain":[-518,428],"nice":false,"zero":false},"axis":{"title":null,"labels":false,"values":[-500,-400,-300,-200,-100,0,100,200,300,400]}},
    "y":{"field":"c","type":"quantitative","scale":{"domain":[579,765],"nice":false,"zero":false},"axis":{"title":"Counts/sec","titlePadding":24,"format":"d","values":[580,590,600,610,620,630,640,650,660,670,680,690,700,710,720,730,740,750,760],"labelExpr":"datum.value % 50 == 0 ? datum.label : ''","tickSize":{"condition":{"test":"datum.value % 50 == 0","value":-8},"value":-4}}}}},
  {"mark":{"type":"line","color":"#0000ff","strokeWidth":1,"clip":true},
   "encoding":{"x":{"field":"t","type":"quantitative","axis":null},"y":{"field":"c","type":"quantitative","axis":null}}},
  {"data":{"values":[{"label":"TH2"}]},
   "mark":{"type":"text","align":"right","baseline":"middle","fontSize":16,"font":"Liberation Sans","color":"black"},
   "encoding":{
    "x":{"datum":418,"type":"quantitative","axis":{"orient":"top","title":null,"labels":false,"values":[-500,-400,-300,-200,-100,0,100,200,300,400]}},
    "y":{"datum":744,"type":"quantitative","axis":{"orient":"right","title":null,"labels":false,"values":[580,590,600,610,620,630,640,650,660,670,680,690,700,710,720,730,740,750,760],"tickSize":{"condition":{"test":"datum.value % 50 == 0","value":-8},"value":-4}}},
    "text":{"field":"label"}}}
 ],
 "resolve":{"axis":{"x":"independent","y":"independent"}}},
{"width":603,"height":90,
 "layer":[
  {"mark":{"type":"tick","orient":"vertical","size":20,"thickness":1,"color":"#00ffff","opacity":0.35,"clip":true},
   "encoding":{
    "x":{"field":"t","type":"quantitative","scale":{"domain":[-518,428],"nice":false,"zero":false},"axis":{"title":null,"labels":false,"values":[-500,-400,-300,-200,-100,0,100,200,300,400]}},
    "y":{"field":"d","type":"quantitative","scale":{"domain":[913,1145],"nice":false,"zero":false},"axis":{"title":null,"format":"d","values":[920,930,940,950,960,970,980,990,1000,1010,1020,1030,1040,1050,1060,1070,1080,1090,1100,1110,1120,1130,1140],"labelExpr":"datum.value % 50 == 0 ? datum.label : ''","tickSize":{"condition":{"test":"datum.value % 50 == 0","value":-8},"value":-4}}}}},
  {"mark":{"type":"line","color":"#00ffff","strokeWidth":1,"clip":true},
   "encoding":{"x":{"field":"t","type":"quantitative","axis":null},"y":{"field":"d","type":"quantitative","axis":null}}},
  {"data":{"values":[{"label":"TH3"}]},
   "mark":{"type":"text","align":"right","baseline":"middle","fontSize":16,"font":"Liberation Sans","color":"black"},
   "encoding":{
    "x":{"datum":418,"type":"quantitative","axis":{"orient":"top","title":null,"labels":false,"values":[-500,-400,-300,-200,-100,0,100,200,300,400]}},
    "y":{"datum":1119,"type":"quantitative","axis":{"orient":"right","title":null,"labels":false,"values":[920,930,940,950,960,970,980,990,1000,1010,1020,1030,1040,1050,1060,1070,1080,1090,1100,1110,1120,1130,1140],"tickSize":{"condition":{"test":"datum.value % 50 == 0","value":-8},"value":-4}}},
    "text":{"field":"label"}}}
 ],
 "resolve":{"axis":{"x":"independent","y":"independent"}}},
{"width":603,"height":90,
 "layer":[
  {"mark":{"type":"tick","orient":"vertical","size":20,"thickness":1,"color":"#ff00ff","opacity":0.35,"clip":true},
   "encoding":{
    "x":{"field":"t","type":"quantitative","scale":{"domain":[-518,428],"nice":false,"zero":false},"axis":{"title":"Time [sec] 0 = 2010/06/18 00:09:27","titlePadding":2,"values":[-500,-400,-300,-200,-100,0,100,200,300,400],"labelExpr":"datum.value % 200 == 0 ? datum.label : ''"}},
    "y":{"field":"e","type":"quantitative","scale":{"domain":[2473,2875],"nice":false,"zero":false},"axis":{"title":null,"format":"d","values":[2480,2500,2520,2540,2560,2580,2600,2620,2640,2660,2680,2700,2720,2740,2760,2780,2800,2820,2840,2860],"labelExpr":"datum.value % 100 == 0 ? datum.label : ''","tickSize":{"condition":{"test":"datum.value % 100 == 0","value":-8},"value":-4}}}}},
  {"mark":{"type":"line","color":"#ff00ff","strokeWidth":1,"clip":true},
   "encoding":{"x":{"field":"t","type":"quantitative","axis":null},"y":{"field":"e","type":"quantitative","axis":null}}},
  {"data":{"values":[{"label":"TH0123"}]},
   "mark":{"type":"text","align":"right","baseline":"middle","fontSize":16,"font":"Liberation Sans","color":"black"},
   "encoding":{
    "x":{"datum":418,"type":"quantitative","axis":{"orient":"top","title":null,"labels":false,"values":[-500,-400,-300,-200,-100,0,100,200,300,400]}},
    "y":{"datum":2830,"type":"quantitative","axis":{"orient":"right","title":null,"labels":false,"values":[2480,2500,2520,2540,2560,2580,2600,2620,2640,2660,2680,2700,2720,2740,2760,2780,2800,2820,2840,2860],"tickSize":{"condition":{"test":"datum.value % 100 == 0","value":-8},"value":-4}}},
    "text":{"field":"label"}}}
 ],
 "resolve":{"axis":{"x":"independent","y":"independent"}}}
],
"config":{
 "view":{"stroke":"black","strokeWidth":1},
 "axis":{"grid":false,"domain":false,"tickColor":"black","tickSize":-8,"labelFont":"Liberation Sans","labelFontSize":15,"labelColor":"black","labelPadding":12,"titleFont":"Liberation Sans","titleFontSize":16,"titleFontWeight":"normal","titleColor":"black"}
}
}
